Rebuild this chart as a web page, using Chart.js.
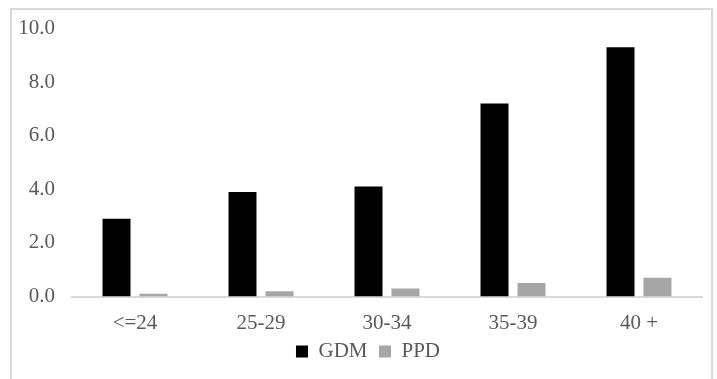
<!DOCTYPE html>
<html lang="en">
<head>
  <meta charset="UTF-8">
  <title>GDM and PPD by age group</title>
  <script src="https://cdn.jsdelivr.net/npm/chart.js"></script>
  <style>
    body { margin: 0; background: #fff; }
    .frame {
      position: absolute;
      left: 10px;
      top: 8px;
      width: 699px;
      height: 380px;
      border: 2px solid #d9d9d9;
      background: #fff;
    }
    canvas { display: block; }
  </style>
</head>
<body>
  <div class="frame">
    <canvas id="barChart" width="699" height="369"></canvas>
  </div>

  <script>
    // chart data
    const ageGroups = ['<=24', '25-29', '30-34', '35-39', '40 +'];
    const gdmValues = [2.9, 3.9, 4.1, 7.2, 9.3];
    const ppdValues = [0.1, 0.2, 0.3, 0.5, 0.7];
    const yTicks = [0, 2, 4, 6, 8, 10];

    const textColor = '#595959';
    const serif = "'Liberation Serif', 'Times New Roman', serif";
    Chart.defaults.font.family = serif;
    Chart.defaults.font.size = 21;
    Chart.defaults.color = textColor;

    // nudge the legend a little so it sits closer under the axis labels, like the original
    const legendNudge = {
      id: 'legendNudge',
      afterLayout(chart) {
        const lg = chart.legend;
        const dx = 11, dy = -7;
        lg.left += dx; lg.right += dx;
        lg.top += dy; lg.bottom += dy;
      }
    };

    const ctx = document.getElementById('barChart').getContext('2d');
    const barChart = new Chart(ctx, {
      type: 'bar',
      data: {
        labels: ageGroups,
        datasets: [
          {
            label: 'GDM',
            data: gdmValues,
            backgroundColor: '#000000',
            categoryPercentage: 0.587,
            barPercentage: 0.757
          },
          {
            label: 'PPD',
            data: ppdValues,
            backgroundColor: '#a6a6a6',
            categoryPercentage: 0.587,
            barPercentage: 0.757
          }
        ]
      },
      plugins: [legendNudge],
      options: {
        responsive: false,
        animation: false,
        layout: {
          padding: { left: 0, right: 9, top: 18.5, bottom: 0 }
        },
        plugins: {
          tooltip: { enabled: false },
          legend: {
            display: true,
            position: 'bottom',
            maxHeight: 44,
            labels: {
              color: textColor,
              boxWidth: 12,
              boxHeight: 12,
              padding: 11.5,
              font: { family: serif, size: 21 }
            }
          }
        },
        scales: {
          x: {
            grid: { display: false, drawTicks: false },
            border: { display: true, color: '#d9d9d9', width: 2 },
            ticks: {
              color: textColor,
              padding: 14,
              maxRotation: 0
            },
            afterFit: function(scale) { scale.height = 40; }
          },
          y: {
            min: 0,
            max: 10,
            grid: { display: false, drawTicks: false },
            border: { display: false },
            afterBuildTicks: function(scale) {
              scale.ticks = yTicks.map(v => ({ value: v }));
            },
            ticks: {
              color: textColor,
              padding: 17,
              callback: function(value) { return Number(value).toFixed(1); }
            },
            afterFit: function(scale) {
              scale.width = 60;
              // the tick padding should not push the plot down
              scale.paddingTop = 10;
              scale.paddingBottom = 10;
            }
          }
        }
      }
    });
  </script>
</body>
</html>
